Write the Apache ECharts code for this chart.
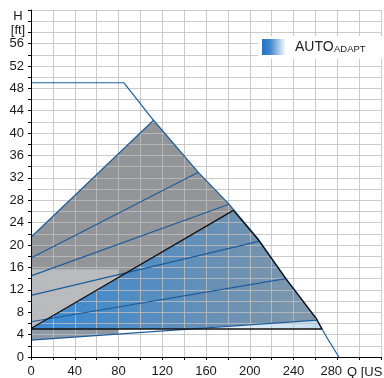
<!DOCTYPE html>
<html>
<head>
<meta charset="utf-8">
<script src="https://cdn.jsdelivr.net/npm/echarts@6/dist/echarts.min.js"></script>
<style>
html,body{margin:0;padding:0;background:#fff;}
#c{width:384px;height:378px;}
</style>
</head>
<body>
<div id="c"></div>
<script>
// ---- data (Q in US gpm, H in ft) ----
const xTicks = [0, 40, 80, 120, 160, 200, 240, 280];
const yTicks = [0, 4, 8, 12, 16, 20, 24, 28, 32, 36, 40, 44, 48, 52, 56];
const maxCurve = [[0,49],[85,49],[112,42.3],[153,33.0],[181,27.3],[208,21.0],[233,14.0],[261,6.8],[271,3.3],[281.5,0]];
const topEdge = [[0,21.4],[112,42.3]];
const lineA = [[0,17.7],[153,33.0]];
const lineB = [[0,14.5],[181,27.3]];
const lineC = [[0,11.0],[209,20.7]];
const lineD = [[0,6.3],[233,14.0]];
const lineE = [[0,3.0],[262,6.6]];
const blackPath = [[0,5.1],[185,26.2],[208,20.9],[233,14.0],[261,6.8],[266,5.0],[0,5.0]];
const grayArea = [[0,5],[0,21.4],[112,42.3],[153,33.0],[181,27.3],[208,21.0],[233,14.0],[261,6.8],[266,5.0]];
const blueArea = [[0,5.05],[185,26.2],[208,20.9],[233,14.0],[261,6.8],[266,5.0]];
const lightStrip = [[141,5],[262,6.6],[266,5]];
const insetTop = [[0,5.1],[0,15.7],[80,15.7],[80,14.1]];
const insetBand = [[0,3.0],[80,4.1],[80,5.0],[0,5.0]];

const FONT = 'Liberation Sans, Arial, sans-serif';
const chart = echarts.init(document.getElementById('c'), null, {renderer:'canvas'});

function poly(points, fill, z){
  return {type:'custom', coordinateSystem:'cartesian2d', z:z, silent:true, clip:false,
    data:[[0,0]],
    renderItem:function(params, api){
      return {type:'polygon', shape:{points: points.map(p => api.coord(p))}, style:{fill:fill}};
    }};
}
function line(points, color, width, z){
  return {type:'line', data:points, showSymbol:false, symbol:'none', silent:true, z:z,
    lineStyle:{color:color, width:width}};
}
const grad = (stops) => new echarts.graphic.LinearGradient(0,0,1,0,stops.map((c,i)=>({offset:i/(stops.length-1), color:c})));

const option = {
  animation:false,
  grid:{left:31, right:0, top:10, bottom:21},
  xAxis:[{
    type:'value', min:0, max:320, interval:20, z:4,
    axisLine:{lineStyle:{color:'#000', width:1}},
    axisTick:{show:true, length:3, lineStyle:{color:'#000'}},
    splitLine:{show:false},
    axisLabel:{margin:8, color:'#1a1a1a', fontSize:13, fontFamily:FONT,
      formatter:function(v){ if(v===280) return '{s|280}'; return xTicks.indexOf(v)>=0 ? String(v) : ''; },
      rich:{s:{fontSize:13, fontFamily:FONT, color:'#1a1a1a', padding:[0,12,0,0]}}}
  },{
    type:'value', min:0, max:320, interval:20, z:2,
    axisLine:{show:false}, axisTick:{show:false}, axisLabel:{show:false},
    splitLine:{show:true, lineStyle:{color:'rgba(190,190,190,0.8)', width:1}}
  }],
  yAxis:[{
    type:'value', min:0, max:62, interval:2, z:4,
    axisLine:{show:true, lineStyle:{color:'#000', width:1}},
    axisTick:{show:true, length:3, lineStyle:{color:'#000'}},
    splitLine:{show:false},
    axisLabel:{margin:7, color:'#1a1a1a', fontSize:13, fontFamily:FONT,
      formatter:function(v){ return yTicks.indexOf(v)>=0 ? String(v) : ''; }}
  },{
    type:'value', min:0, max:62, interval:2, z:2,
    axisLine:{show:false}, axisTick:{show:false}, axisLabel:{show:false},
    splitLine:{show:true, lineStyle:{color:'rgba(190,190,190,0.8)', width:1}}
  }],
  series:[
    poly(grayArea, '#939598', 1),
    poly(blueArea, grad(['#3a8ad4','#4f8cc4','#6a91b4','#8498a8']), 1),
    poly(lightStrip, grad(['#f4f9fd','#c4dcf0']), 1),
    poly(insetTop, 'rgba(240,243,246,0.4)', 1),
    poly(insetBand, '#8d98a4', 1),
    line(maxCurve, '#1d5c9c', 1.2, 3),
    line(topEdge, '#1d5c9c', 1.2, 3),
    line(lineA, '#1d5c9c', 1.2, 3),
    line(lineB, '#1d5c9c', 1.2, 3),
    line(lineC, '#1d5c9c', 1.2, 3),
    line(lineD, '#1d5c9c', 1.2, 3),
    line(lineE, '#1d5c9c', 1.2, 3),
    line(blackPath, '#111', 1.3, 3)
  ],
  graphic:[
    {type:'text', left:'auto', x:18, y:16.5, z:10, style:{text:'H', font:'13px '+FONT, fill:'#1a1a1a', textAlign:'center', textVerticalAlign:'middle'}},
    {type:'text', x:18, y:30, z:10, style:{text:'[ft]', font:'13px '+FONT, fill:'#1a1a1a', textAlign:'center', textVerticalAlign:'middle'}},
    {type:'text', x:347, y:372, z:10, style:{text:'Q [US gpm]', font:'13px '+FONT, fill:'#1a1a1a', textAlign:'left', textVerticalAlign:'middle'}},
    {type:'rect', z:10, shape:{x:258, y:36, width:126, height:23}, style:{fill:'#fff'}},
    {type:'rect', z:11, shape:{x:262, y:39, width:23, height:16},
      style:{fill:new echarts.graphic.LinearGradient(0,0,1,0,[{offset:0,color:'#2473c4'},{offset:0.35,color:'#3f86cf'},{offset:1,color:'#f2f7fc'}])}},
    {type:'text', x:295, y:47.5, z:11, style:{text:'AUTO', font:'14px '+FONT, fill:'#222', textAlign:'left', textVerticalAlign:'middle'}},
    {type:'text', x:334, y:49.5, z:11, style:{text:'ADAPT', font:'9.5px '+FONT, fill:'#222', textAlign:'left', textVerticalAlign:'middle'}}
  ]
};
chart.setOption(option);
</script>
</body>
</html>
